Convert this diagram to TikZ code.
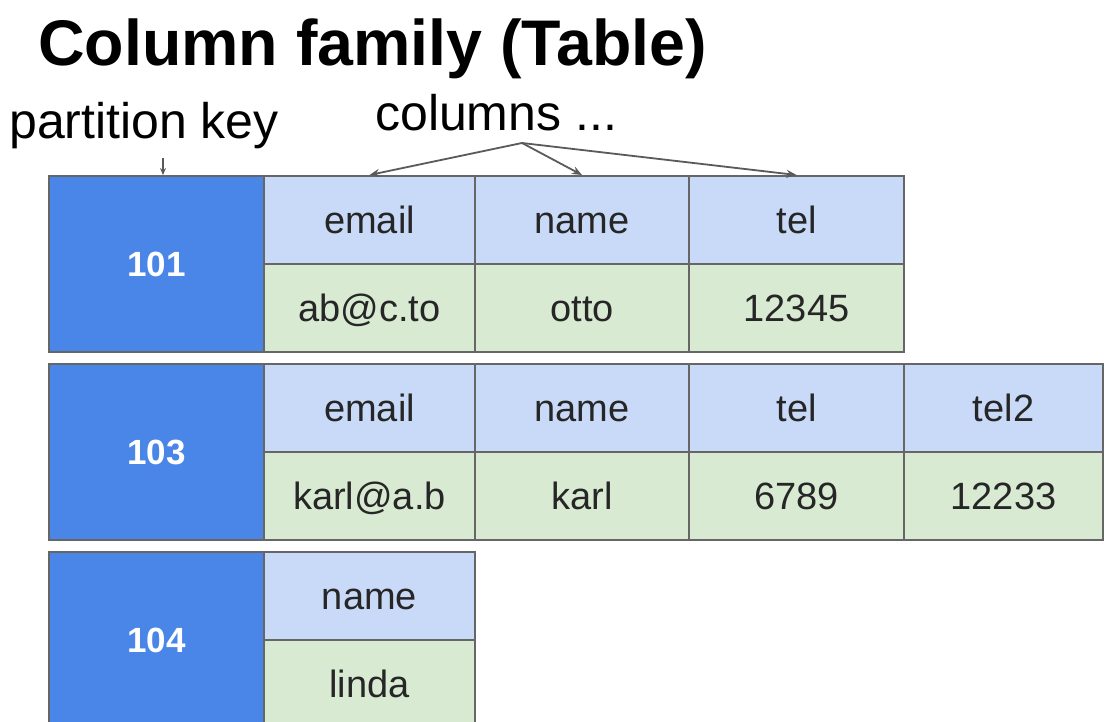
\documentclass[tikz,border=0pt]{standalone}
\usepackage{fontspec}
\setmainfont{Liberation Sans}
\usetikzlibrary{arrows.meta}
\definecolor{keyblue}{HTML}{4A86E8}
\definecolor{hdrblue}{HTML}{C9DAF8}
\definecolor{valgreen}{HTML}{D9EAD3}
\definecolor{bordergray}{HTML}{666666}
\definecolor{arrowgray}{HTML}{5A5A5A}
\tikzset{
  cellbase/.style={draw=bordergray, line width=2pt, rectangle, anchor=north west, inner sep=0pt,
    font=\fontsize{38}{44}\selectfont, text=black!85, text height=27pt, text depth=0pt},
  keycell/.style={cellbase, fill=keyblue, minimum width=215pt, minimum height=176pt,
    text=white, font=\fontsize{35}{40}\selectfont\bfseries, text height=25pt},
  hdrcell/.style={cellbase, fill=hdrblue, minimum height=88pt},
  valcell/.style={cellbase, fill=valgreen, minimum height=88pt},
  lbl/.style={font=\fontsize{50}{54}\selectfont, text=black, inner sep=0pt},
  colarrow/.style={draw=arrowgray, line width=1.8pt, -{Stealth[length=10pt,width=8pt]}},
}
\begin{document}
\begin{tikzpicture}[x=1pt,y=-1pt]
\useasboundingbox (0,0) rectangle (1104,722);
\fill[white] (0,0) rectangle (1104,722);
% title
\node[anchor=base west, inner sep=0pt, font=\fontsize{64.5}{68}\selectfont\bfseries] (title) at (38,66) {Column family (Table)};
% labels
\node[lbl, anchor=base west] (pk) at (9,139) {partition key};
\node[lbl, anchor=base west] (cols) at (375,131) {columns ...};
% row 1
\node[keycell] (k1) at (48,175) {101};
\node[hdrcell, minimum width=211pt] (h11) at (263,175) {email};
\node[hdrcell, minimum width=214pt] (h12) at (474,175) {name};
\node[hdrcell, minimum width=215pt] (h13) at (688,175) {tel};
\node[valcell, minimum width=211pt] (v11) at (263,263) {ab@c.to};
\node[valcell, minimum width=214pt] (v12) at (474,263) {otto};
\node[valcell, minimum width=215pt] (v13) at (688,263) {12345};
% row 2
\node[keycell] (k2) at (48,363) {103};
\node[hdrcell, minimum width=211pt] (h21) at (263,363) {email};
\node[hdrcell, minimum width=214pt] (h22) at (474,363) {name};
\node[hdrcell, minimum width=215pt] (h23) at (688,363) {tel};
\node[hdrcell, minimum width=199pt] (h24) at (903,363) {tel2};
\node[valcell, minimum width=211pt] (v21) at (263,451) {karl@a.b};
\node[valcell, minimum width=214pt] (v22) at (474,451) {karl};
\node[valcell, minimum width=215pt] (v23) at (688,451) {6789};
\node[valcell, minimum width=199pt] (v24) at (903,451) {12233};
% row 3
\node[keycell, minimum height=176pt] (k3) at (48,551) {104};
\node[hdrcell, minimum width=211pt] (h31) at (263,551) {name};
\node[valcell, minimum width=211pt] (v31) at (263,639) {linda};
% arrows
\coordinate (cs) at (522,143);
\draw[colarrow] (cs) -- (h11.north);
\draw[colarrow] (cs) -- (h12.north);
\draw[colarrow] (cs) -- (h13.north);
\coordinate (ps) at (163,158);
\draw[draw=arrowgray, line width=1.2pt, -{Stealth[length=7pt,width=6pt]}] (ps) -- (163,175);
\end{tikzpicture}
\end{document}
